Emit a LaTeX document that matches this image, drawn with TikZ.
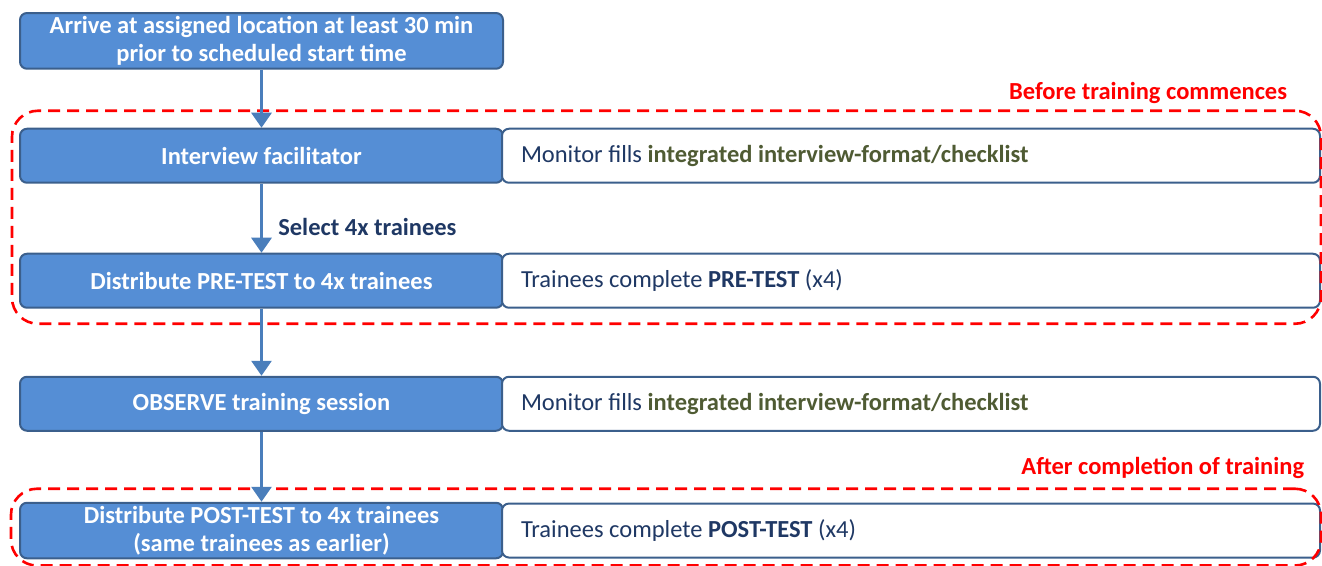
\documentclass[tikz,border=0pt]{standalone}
\usepackage{fontspec}
\setmainfont{Carlito}
\usetikzlibrary{arrows.meta, positioning, fit}
\definecolor{stepfill}{HTML}{558ED5}
\definecolor{stepline}{HTML}{3B5F8C}
\definecolor{flowline}{HTML}{4A7EBB}
\definecolor{notetext}{HTML}{1F3864}
\definecolor{formtext}{HTML}{4F5B33}
\definecolor{phasered}{HTML}{FF0000}
\tikzset{
  stepbox/.style={
    draw=stepline,
    fill=stepfill,
    rounded corners=7pt,
    line width=2pt,
    minimum width=483pt,
    minimum height=54pt,
    align=center,
    text=white,
    font=\fontsize{24.5}{28}\selectfont\bfseries
  },
  notebox/.style={
    draw=stepline,
    fill=white,
    rounded corners=7pt,
    line width=2pt,
    minimum width=818pt,
    minimum height=54pt,
    text width=780pt,
    align=flush left,
    text=notetext,
    font=\fontsize{24.5}{28}\selectfont
  },
  phase/.style={
    draw=phasered,
    dash pattern=on 12pt off 7pt,
    line width=2.6pt,
    rounded corners=26pt,
    inner sep=0pt
  },
  phaselabel/.style={
    text=phasered,
    inner sep=0pt,
    font=\fontsize{24.5}{28}\selectfont\bfseries
  },
  arrow/.style={
    -{Triangle[width=20pt,length=15pt]},
    line width=3pt,
    draw=flowline
  }
}

\begin{document}
\begin{tikzpicture}[x=1pt, y=1pt]
\useasboundingbox (0,0) rectangle (1322,-565);

\node[stepbox, anchor=north west] (arrive) at (19,-12) {
  Arrive at assigned location at least 30 min\\
  prior to scheduled start time
};

\node[stepbox, below=58pt of arrive] (interview) {Interview facilitator};
\node[notebox, right=-3pt of interview] (interviewnote) {
  Monitor fills \textbf{\color{formtext}integrated interview-format/checklist}
};

\node[stepbox, below=69pt of interview] (pretest) {Distribute PRE-TEST to 4x trainees};
\node[notebox, right=-3pt of pretest] (pretestnote) {
  Trainees complete \textbf{PRE-TEST} (x4)
};

\node[stepbox, below=67pt of pretest] (observe) {OBSERVE training session};
\node[notebox, right=-3pt of observe] (observenote) {
  Monitor fills \textbf{\color{formtext}integrated interview-format/checklist}
};

\node[stepbox, below=70pt of observe] (posttest) {
  Distribute POST-TEST to 4x trainees\\
  (same trainees as earlier)
};
\node[notebox, right=-3pt of posttest] (posttestnote) {
  Trainees complete \textbf{POST-TEST} (x4)
};

\node[phase, fit={([xshift=-7pt, yshift=17pt]interview.north west) ([yshift=-15pt]pretestnote.south east)}] (before) {};
\node[phaselabel, anchor=south east] (beforelabel) at ([xshift=-35pt, yshift=6pt]before.north east) {Before training commences};

\node[phase, fit={([xshift=-8pt, yshift=13pt]posttest.north west) ([yshift=-7pt]posttestnote.south east)}] (after) {};
\node[phaselabel, anchor=south east] (afterlabel) at ([xshift=-18pt, yshift=9pt]after.north east) {After completion of training};

\draw[arrow] (arrive) -- (interview);
\draw[arrow] (interview) -- node[pos=0.63, right=12pt, text=notetext, font=\fontsize{24.5}{28}\selectfont\bfseries] {Select 4x trainees} (pretest);
\draw[arrow] (pretest) -- (observe);
\draw[arrow] (observe) -- (posttest);

\end{tikzpicture}
\end{document}
